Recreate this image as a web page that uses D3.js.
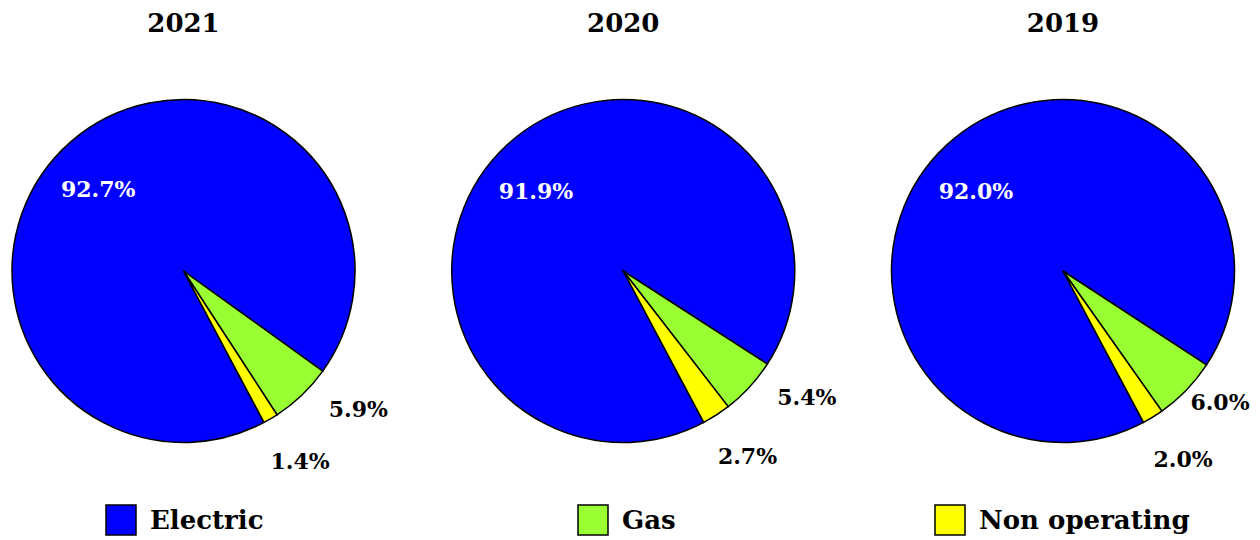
<!DOCTYPE html>
<html>
<head>
<meta charset="utf-8">
<script src="https://cdn.jsdelivr.net/npm/d3@7"></script>
<style>
  body { margin: 0; background: #fff; }
  text { font-family: "DejaVu Serif", serif; font-weight: bold; }
</style>
</head>
<body>
<div class="wrapper"></div>
<script>
const WIDTH = 1260
const HEIGHT = 540

// data
var years = ['2021', '2020', '2019']
var segments = ['Electric', 'Gas', 'Non operating']
var electric = [92.7, 91.9, 92.0]
var gas = [5.9, 5.4, 6.0]
var nonOperating = [1.4, 2.7, 2.0]

var colors = ['#0000ff', '#99ff33', '#ffff00']

const radius = 171.5
const centerY = 271
const startAngle = 152 * Math.PI / 180
// label placement (radius factor, angle nudge in degrees)
var labelPos = [
  {r: 0.69, da: -5},
  {r: 1.30, da: -8},
  {r: 1.30, da: -1}
]

var svg = d3.select(".wrapper")
    .append("svg")
    .attr("width", WIDTH)
    .attr("height", HEIGHT)

var xScale = d3.scalePoint(years, [183.5, 1063]).padding(0)
var colorScale = d3.scaleOrdinal(segments, colors)

var pie = d3.pie()
    .sort(null)
    .value(d => d.value)
    .startAngle(startAngle)
    .endAngle(startAngle + 2 * Math.PI)

var arc = d3.arc().innerRadius(0).outerRadius(radius)

function labelXY(d, j, cx) {
  var a = (d.startAngle + d.endAngle) / 2 + labelPos[j].da * Math.PI / 180
  var x = Math.sin(a) * radius * labelPos[j].r
  var y = -Math.cos(a) * radius * labelPos[j].r
  // keep labels inside the chart area, like the original does
  x = Math.min(x, WIDTH - 40 - cx)
  return [x, y]
}

years.forEach(function(year, i) {
  var rows = [
    {name: segments[0], value: electric[i]},
    {name: segments[1], value: gas[i]},
    {name: segments[2], value: nonOperating[i]}
  ]
  var cx = xScale(year)
  var g = svg.append("g")
      .attr("transform", `translate(${cx},${centerY})`)

  g.selectAll("path")
    .data(pie(rows))
    .join("path")
    .attr("d", arc)
    .attr("fill", d => colorScale(d.data.name))
    .attr("stroke", "black")
    .attr("stroke-width", 1.5)

  g.selectAll("text.pct")
    .data(pie(rows))
    .join("text")
    .attr("class", "pct")
    .attr("x", (d, j) => labelXY(d, j, cx)[0])
    .attr("y", (d, j) => labelXY(d, j, cx)[1])
    .attr("dy", "0.35em")
    .attr("text-anchor", "middle")
    .style("font-size", "22px")
    .attr("fill", (d, j) => j == 0 ? "white" : "black")
    .text(d => d.data.value.toFixed(1) + "%")

  svg.append("text")
    .attr("x", cx)
    .attr("y", 32)
    .attr("text-anchor", "middle")
    .style("font-size", "26px")
    .text(year)
})

// legend
var legendX = d3.scaleOrdinal(segments, [106, 578, 935])
var legend = svg.selectAll("g.legend")
    .data(segments)
    .join("g")
    .attr("class", "legend")
    .attr("transform", d => `translate(${legendX(d)},505)`)

legend.append("rect")
    .attr("width", 30)
    .attr("height", 30)
    .attr("fill", d => colorScale(d))
    .attr("stroke", "black")
    .attr("stroke-width", 1.5)

legend.append("text")
    .attr("x", 44)
    .attr("y", 15)
    .attr("dy", "0.35em")
    .style("font-size", "26px")
    .text(d => d)
</script>
</body>
</html>
